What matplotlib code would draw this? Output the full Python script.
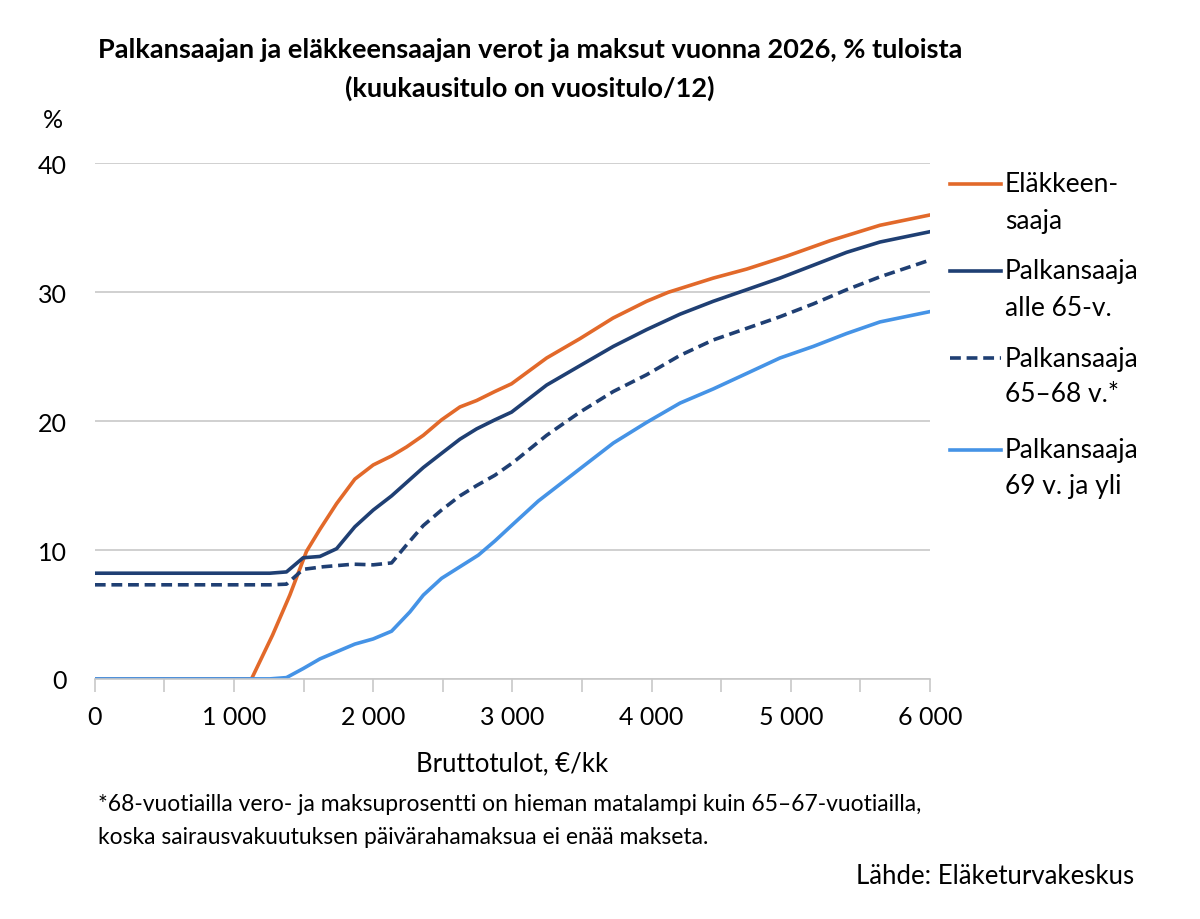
import matplotlib.pyplot as plt
from matplotlib.lines import Line2D
from matplotlib.ticker import MultipleLocator, FuncFormatter

plt.rcParams['font.family'] = ['Lato', 'DejaVu Sans']

# Eläkkeensaaja
x_elake = [0, 1126, 1277, 1401, 1521, 1617, 1737, 1868, 2000, 2132, 2240, 2360, 2491, 2623,
           2743, 2874, 2994, 3246, 3485, 3723, 3964, 4120, 4443, 4683, 4970, 5282, 5641, 6000]
y_elake = [0, 0, 3.4, 6.5, 9.9, 11.6, 13.6, 15.5, 16.6, 17.3, 18.0, 18.9, 20.1, 21.1,
           21.6, 22.3, 22.9, 24.9, 26.4, 28.0, 29.3, 30.0, 31.1, 31.8, 32.8, 34.0, 35.2, 36.0]

# Palkansaaja alle 65-v.
x_alle65 = [0, 1257, 1377, 1497, 1617, 1737, 1868, 2000, 2132, 2360, 2491, 2623, 2743, 2874,
            2994, 3246, 3485, 3725, 3964, 4204, 4443, 4683, 4922, 5162, 5401, 5641, 6000]
y_alle65 = [8.2, 8.2, 8.3, 9.4, 9.5, 10.1, 11.8, 13.1, 14.2, 16.4, 17.5, 18.6, 19.4, 20.1,
            20.7, 22.8, 24.3, 25.8, 27.1, 28.3, 29.3, 30.2, 31.1, 32.1, 33.1, 33.9, 34.7]

# Palkansaaja 65–68 v.
x_6568 = [0, 1257, 1377, 1497, 1641, 1857, 2000, 2132, 2240, 2360, 2491, 2623, 2743, 2874,
          3006, 3246, 3485, 3725, 3964, 4204, 4443, 4683, 4922, 5162, 5401, 5641, 6000]
y_6568 = [7.3, 7.3, 7.35, 8.5, 8.7, 8.9, 8.85, 9.0, 10.4, 11.9, 13.1, 14.2, 15.0, 15.8,
          16.8, 18.9, 20.7, 22.3, 23.6, 25.1, 26.3, 27.2, 28.1, 29.1, 30.2, 31.2, 32.5]

# Palkansaaja 69 v. ja yli
x_69 = [0, 1257, 1377, 1497, 1617, 1737, 1868, 2000, 2132, 2264, 2360, 2491, 2623, 2755,
        2874, 2994, 3186, 3485, 3725, 3964, 4204, 4443, 4683, 4922, 5162, 5401, 5641, 6000]
y_69 = [0, 0, 0.1, 0.8, 1.55, 2.1, 2.7, 3.1, 3.7, 5.2, 6.5, 7.8, 8.7, 9.6,
        10.7, 11.9, 13.8, 16.3, 18.3, 19.9, 21.4, 22.5, 23.7, 24.9, 25.8, 26.8, 27.7, 28.5]

labels = ['Eläkkeen-\nsaaja', 'Palkansaaja\nalle 65-v.', 'Palkansaaja\n65–68 v.*',
          'Palkansaaja\n69 v. ja yli']
footnote = ['*68-vuotiailla vero- ja maksuprosentti on hieman matalampi kuin 65–67-vuotiailla,',
            'koska sairausvakuutuksen päivärahamaksua ei enää makseta.']
c_orange = '#E2692A'
c_navy = '#1F3F73'
c_light = '#4593E6'
dash = (0, (3, 1.6))

fig = plt.figure(figsize=(12, 9.2), dpi=100)
ax = fig.add_axes([0.079, 0.261, 0.696, 0.5603])

lw = 2.6
ax.plot(x_elake, y_elake, color=c_orange, lw=lw)
ax.plot(x_alle65, y_alle65, color=c_navy, lw=lw)
ax.plot(x_6568, y_6568, color=c_navy, lw=lw, ls=dash)
ax.plot(x_69, y_69, color=c_light, lw=lw)

ax.set_xlim(0, 6000)
ax.set_ylim(0, 40)
ax.yaxis.set_major_locator(MultipleLocator(10))
ax.xaxis.set_major_locator(MultipleLocator(1000))
ax.xaxis.set_minor_locator(MultipleLocator(500))
ax.xaxis.set_major_formatter(FuncFormatter(lambda v, p: f'{int(v):,}'.replace(',', ' ')))
ax.grid(axis='y', color='#C8C8C8', lw=1.2)
ax.set_axisbelow(True)
for s in ['top', 'right', 'left']:
    ax.spines[s].set_visible(False)
ax.spines['bottom'].set_color('#C8C8C8')
ax.spines['bottom'].set_linewidth(1.2)
ax.tick_params(axis='y', length=0, pad=20, labelsize=18)
ax.tick_params(axis='x', which='both', length=9, width=1.2, color='#C8C8C8', labelsize=18, pad=10)
ax.set_xlabel('Bruttotulot, €/kk', fontsize=18.5, labelpad=16)

fig.text(0.4417, 0.9457, 'Palkansaajan ja eläkkeensaajan verot ja maksut vuonna 2026, % tuloista',
         ha='center', va='center', fontsize=19.5, fontweight='bold')
fig.text(0.4417, 0.9043, '(kuukausitulo on vuositulo/12)',
         ha='center', va='center', fontsize=19.5, fontweight='bold')
fig.text(0.044, 0.869, '%', ha='center', va='center', fontsize=18)

# legend drawn by hand (pixel rows from the reference)
leg_px = [185, 272, 359, 451]
styles = [(c_orange, '-'), (c_navy, '-'), (c_navy, dash), (c_light, '-')]
for py, (col, ls), lab in zip(leg_px, styles, labels):
    yy = 1 - py / 920
    fig.add_artist(Line2D([0.792, 0.834], [yy, yy], color=col, lw=lw, ls=ls))
    first, second = lab.split('\n')
    fig.text(0.8375, yy, first, ha='left', va='center', fontsize=19)
    fig.text(0.8375, yy - 36 / 920, second, ha='left', va='center', fontsize=19)

fig.text(0.082, 1 - 805 / 920, footnote[0], ha='left', va='center', fontsize=16.5)
fig.text(0.082, 1 - 838 / 920, footnote[1], ha='left', va='center', fontsize=16.5)
fig.text(0.945, 1 - 877 / 920, 'Lähde: Eläketurvakeskus', ha='right', va='center', fontsize=18.5)

fig.savefig('out.png', dpi=100)
